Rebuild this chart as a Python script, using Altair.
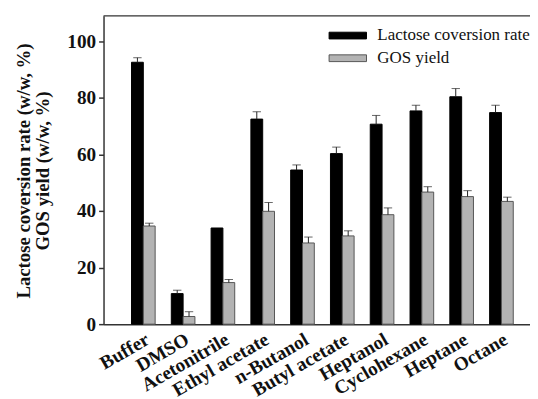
import altair as alt
import pandas as pd

categories = ["Buffer", "DMSO", "Acetonitrile", "Ethyl acetate", "n-Butanol",
              "Butyl acetate", "Heptanol", "Cyclohexane", "Heptane", "Octane"]
series_names = ["Lactose coversion rate", "GOS yield"]
lactose = [92.6, 10.8, 34.0, 72.5, 54.5, 60.3, 70.7, 75.4, 80.4, 74.8]
lactose_err = [1.6, 1.2, 0.0, 2.6, 1.8, 2.3, 3.1, 2.0, 2.9, 2.6]
gos = [34.7, 2.7, 14.7, 39.9, 28.7, 31.2, 38.7, 46.7, 45.1, 43.4]
gos_err = [1.0, 1.7, 1.1, 3.1, 2.1, 1.8, 2.4, 1.9, 2.1, 1.5]
y_ticks = [0, 10, 20, 30, 40, 50, 60, 70, 80, 90, 100]

rows = []
for i, c in enumerate(categories):
    rows.append({"cat": c, "series": series_names[0], "value": lactose[i], "err": lactose_err[i]})
    rows.append({"cat": c, "series": series_names[1], "value": gos[i], "err": gos_err[i]})
df = pd.DataFrame(rows)

FONT = "Liberation Serif"
INK = "#111111"

x_enc = alt.X("cat:N", sort=categories,
              scale=alt.Scale(range=[0, 444.4], paddingInner=0.406, paddingOuter=0.703),
              axis=alt.Axis(title=None, labelAngle=-30, labelAlign="right", labelBaseline="top",
                            labelFont=FONT, labelFontSize=19.5, labelFontWeight="bold",
                            labelColor=INK, ticks=False, domainColor="#333333", domainWidth=1.5,
                            labelPadding=6, labelOverlap=False))
xo_enc = alt.XOffset("series:N", sort=series_names,
                     scale=alt.Scale(paddingInner=0, paddingOuter=0))
y_scale = alt.Scale(domain=[0, 109], nice=False, zero=True)

legend = alt.Legend(title=None, orient="none", legendX=238, legendY=10,
                    symbolType="M-2,-0.36H2V0.36H-2Z", symbolSize=361,
                    symbolStrokeWidth=1, labelFont=FONT, labelFontSize=17.2,
                    labelColor=INK, labelOffset=20, rowPadding=4, padding=0)

bars = alt.Chart(df).mark_bar(strokeWidth=1).encode(
    x=x_enc,
    xOffset=xo_enc,
    y=alt.Y("value:Q", scale=y_scale,
            axis=alt.Axis(values=y_ticks,
                          labelExpr="datum.value % 20 == 0 ? datum.label : ''",
                          tickSize={"condition": {"test": "datum.value % 20 == 0", "value": 5}, "value": 3},
                          labelFont=FONT, labelFontWeight="bold", labelFontSize=19.5,
                          labelColor=INK, domainColor="#333333", domainWidth=1.5,
                          tickColor="#333333", tickWidth=1.5, grid=False, labelPadding=3,
                          title=["Lactose coversion rate (w/w, %)", "GOS yield (w/w, %)"],
                          titleFont=FONT, titleFontSize=19, titleFontWeight="bold",
                          titleColor=INK, titleAngle=-90, titleX=-81, titleY=157,
                          titleBaseline="middle", titleAlign="center", titleLineHeight=19)),
    fill=alt.Fill("series:N", sort=series_names,
                  scale=alt.Scale(domain=series_names, range=["#000000", "#b3b3b3"]),
                  legend=legend),
    stroke=alt.Stroke("series:N", sort=series_names,
                      scale=alt.Scale(domain=series_names, range=["#000000", "#555555"]),
                      legend=legend),
)

err_base = alt.Chart(df).transform_filter("datum.err > 0").transform_calculate(
    top="datum.value + datum.err")

err_line = err_base.mark_rule(color="#222222", strokeWidth=1).encode(
    x=x_enc, xOffset=xo_enc, y=alt.Y("value:Q", scale=y_scale), y2="top:Q")

err_cap = err_base.mark_tick(orient="horizontal", size=8.5, thickness=1, color="#222222").encode(
    x=x_enc, xOffset=xo_enc, y=alt.Y("top:Q", scale=y_scale))

border = alt.Chart(pd.DataFrame({"a": [0]})).mark_rule(color="#333333", strokeWidth=1.5).encode(
    x=alt.value(0), x2=alt.value(444), y=alt.value(0))

chart = alt.layer(bars, err_line, err_cap, border).properties(
    width=433, height=313,
    padding={"left": 97, "top": 5, "right": 0, "bottom": 73},
    autosize=alt.AutoSizeParams(type="none"),
).configure_view(stroke=None)

chart.save("out.html", embed_options={"renderer": "svg", "actions": False})
